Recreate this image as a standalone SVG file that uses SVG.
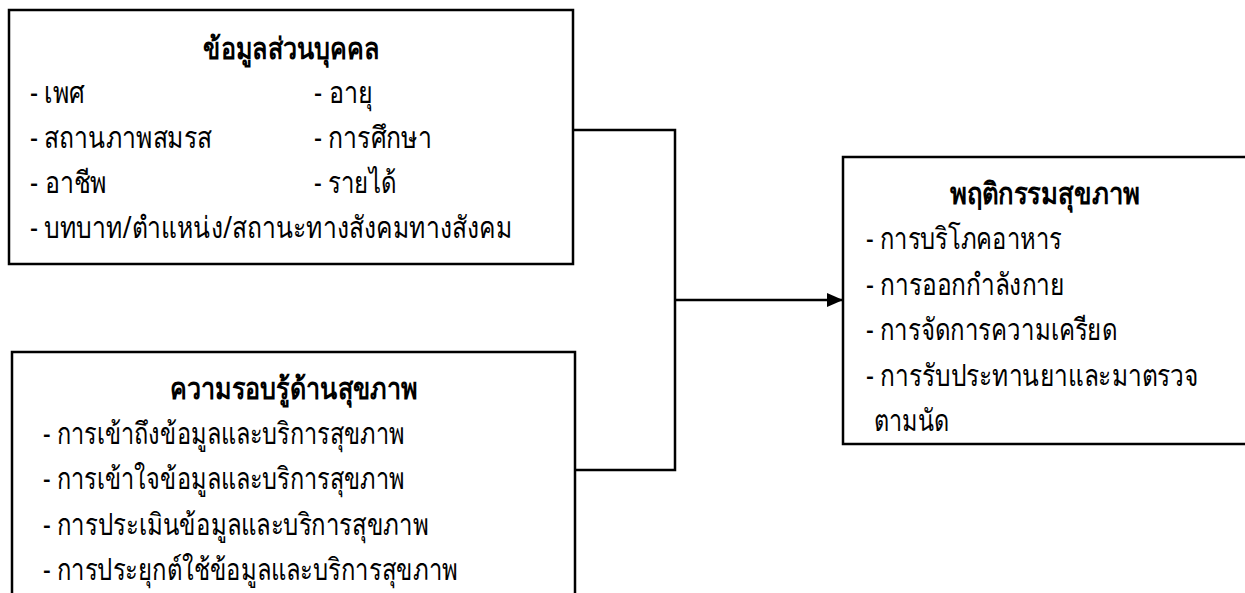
<svg xmlns="http://www.w3.org/2000/svg" width="1245" height="593" viewBox="0 0 1245 593">
  <style>
    .box { fill: #ffffff; stroke: #000000; stroke-width: 2.5; }
    .conn { fill: none; stroke: #000000; stroke-width: 2.5; }
    text { font-family: "Noto Sans", "DejaVu Sans", sans-serif; font-size: 30px; fill: #000000; }
    .title { font-weight: bold; text-anchor: middle; }
  </style>
  <defs>
    <marker id="arrow" markerUnits="userSpaceOnUse" markerWidth="18" markerHeight="16" refX="16" refY="8" orient="auto">
      <path d="M0,1 L16,8 L0,15 Z" fill="#000000"/>
    </marker>
  </defs>
  <rect x="0" y="0" width="1245" height="593" fill="#ffffff"/>

  <g id="connectors">
    <polyline class="conn" points="573,130 675,130 675,470 575,470"/>
    <line class="conn" x1="675" y1="300" x2="843" y2="300" marker-end="url(#arrow)"/>
  </g>

  <g id="node-personal">
    <rect class="box" x="9" y="10" width="564" height="254"/>
    <text class="title" x="291" y="59" textLength="176" lengthAdjust="spacingAndGlyphs">ข้อมูลส่วนบุคคล</text>
    <text x="30" y="103" textLength="55" lengthAdjust="spacingAndGlyphs">- เพศ</text>
    <text x="314" y="103" textLength="59" lengthAdjust="spacingAndGlyphs">- อายุ</text>
    <text x="30" y="148" textLength="182" lengthAdjust="spacingAndGlyphs">- สถานภาพสมรส</text>
    <text x="314" y="148" textLength="118" lengthAdjust="spacingAndGlyphs">- การศึกษา</text>
    <text x="30" y="193" textLength="77" lengthAdjust="spacingAndGlyphs">- อาชีพ</text>
    <text x="314" y="193" textLength="82" lengthAdjust="spacingAndGlyphs">- รายได้</text>
    <text x="30" y="238" textLength="482" lengthAdjust="spacingAndGlyphs">- บทบาท/ตำแหน่ง/สถานะทางสังคมทางสังคม</text>
  </g>

  <g id="node-literacy">
    <rect class="box" x="12" y="352" width="563" height="260"/>
    <text class="title" x="294" y="399" textLength="248" lengthAdjust="spacingAndGlyphs">ความรอบรู้ด้านสุขภาพ</text>
    <text x="43" y="444" textLength="362" lengthAdjust="spacingAndGlyphs">- การเข้าถึงข้อมูลและบริการสุขภาพ</text>
    <text x="43" y="489" textLength="362" lengthAdjust="spacingAndGlyphs">- การเข้าใจข้อมูลและบริการสุขภาพ</text>
    <text x="43" y="535" textLength="386" lengthAdjust="spacingAndGlyphs">- การประเมินข้อมูลและบริการสุขภาพ</text>
    <text x="43" y="580" textLength="415" lengthAdjust="spacingAndGlyphs">- การประยุกต์ใช้ข้อมูลและบริการสุขภาพ</text>
  </g>

  <g id="node-behavior">
    <rect class="box" x="843" y="157" width="420" height="287"/>
    <text class="title" x="1045" y="204" textLength="191" lengthAdjust="spacingAndGlyphs">พฤติกรรมสุขภาพ</text>
    <text x="866" y="249" textLength="196" lengthAdjust="spacingAndGlyphs">- การบริโภคอาหาร</text>
    <text x="866" y="295" textLength="199" lengthAdjust="spacingAndGlyphs">- การออกกำลังกาย</text>
    <text x="866" y="340" textLength="251" lengthAdjust="spacingAndGlyphs">- การจัดการความเครียด</text>
    <text x="866" y="386" textLength="333" lengthAdjust="spacingAndGlyphs">- การรับประทานยาและมาตรวจ</text>
    <text x="874" y="431" textLength="75" lengthAdjust="spacingAndGlyphs">ตามนัด</text>
  </g>
</svg>
